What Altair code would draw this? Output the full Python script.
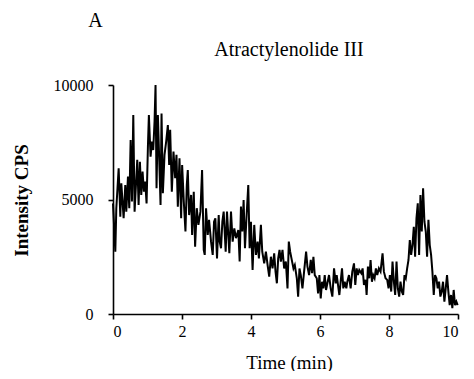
import altair as alt
import pandas as pd

time_min = [
    0.000, 0.067, 0.096, 0.164, 0.212, 0.241, 0.308, 0.356, 0.385, 0.434,
    0.472, 0.511, 0.549, 0.588, 0.626, 0.665, 0.703, 0.742, 0.780, 0.819,
    0.857, 0.896, 0.934, 0.973, 1.012, 1.040, 1.089, 1.127, 1.166, 1.204,
    1.233, 1.262, 1.301, 1.339, 1.378, 1.407, 1.445, 1.493, 1.541, 1.590,
    1.628, 1.657, 1.705, 1.753, 1.802, 1.840, 1.879, 1.927, 1.975, 2.004,
    2.052, 2.100, 2.139, 2.168, 2.206, 2.264, 2.293, 2.341, 2.380, 2.428,
    2.476, 2.534, 2.582, 2.630, 2.659, 2.697, 2.746, 2.784, 2.842, 2.890,
    2.929, 2.967, 3.015, 3.064, 3.092, 3.131, 3.170, 3.208, 3.266,
    3.304, 3.372, 3.420, 3.468, 3.516, 3.565, 3.632, 3.671, 3.709, 3.748,
    3.786, 3.825, 3.873, 3.921, 3.960, 3.998, 4.046, 4.094, 4.143, 4.191,
    4.229, 4.287, 4.326, 4.383, 4.432, 4.480, 4.528, 4.576, 4.624, 4.672,
    4.711, 4.750, 4.788, 4.827, 4.865, 4.913, 4.961, 5.010, 5.058, 5.096,
    5.135, 5.173, 5.231, 5.270, 5.328, 5.366, 5.405, 5.443, 5.491, 5.539,
    5.597, 5.636, 5.684, 5.732, 5.771, 5.809, 5.848, 5.906, 5.944, 5.983,
    6.021, 6.060, 6.098, 6.137, 6.175, 6.214, 6.262, 6.310, 6.358, 6.407,
    6.455, 6.484, 6.522, 6.561, 6.599, 6.638, 6.676, 6.715, 6.763,
    6.792, 6.840, 6.888, 6.936, 6.985, 7.023, 7.062, 7.100, 7.139, 7.197,
    7.235, 7.274, 7.322, 7.351, 7.389, 7.428, 7.466, 7.505, 7.543, 7.582,
    7.620, 7.659, 7.707, 7.755, 7.813, 7.852, 7.900, 7.948, 7.987, 8.025,
    8.064, 8.102, 8.141, 8.179, 8.218, 8.256, 8.295, 8.333, 8.372, 8.410,
    8.449, 8.487, 8.526, 8.565, 8.603, 8.642, 8.680, 8.719, 8.757, 8.796,
    8.834, 8.873, 8.911, 8.950, 8.988, 9.027, 9.066, 9.104, 9.143, 9.181,
    9.220, 9.258, 9.297, 9.335, 9.374, 9.412, 9.451, 9.489, 9.528, 9.566,
    9.605, 9.644, 9.682, 9.721, 9.759, 9.798, 9.836, 9.875, 9.913, 9.952,
    9.990,
]

intensity_cps = [
    4830, 2720, 4620, 6360, 4250, 5710, 4180, 5630, 4470, 6000,
    4620, 7600, 4910, 8690, 4470, 5630, 6730, 4760, 6650, 5200,
    6220, 5340, 5780, 4830, 7310, 8690, 6870, 7530, 7160, 8400,
    10000, 5490, 8690, 6800, 4760, 8760, 5270, 6950, 7530, 8250,
    6510, 8040, 5340, 7090, 5930, 6950, 4690, 6800, 4180, 6510,
    4910, 3600, 5630, 6290, 4320, 5200, 3450, 5340, 2940, 4620,
    3890, 4470, 6290, 2800, 2580, 4620, 3450, 4110, 3160, 2580,
    4030, 4180, 2430, 4320, 3160, 2870, 4030, 4470, 2720,
    4470, 2650, 4470, 3160, 3740, 3310, 3670, 2290, 4690, 3600,
    4980, 2870, 4320, 5630, 2870, 4030, 1920, 3890, 2580, 3160,
    2430, 3890, 2720, 2210, 2720, 2140, 1630, 2500, 1990, 2650,
    1850, 1340, 2430, 2800, 2290, 2800, 1990, 2290, 1120, 3160,
    2720, 2430, 1990, 2140, 1560, 760, 1990, 1700, 1120, 1850,
    2720, 2070, 1700, 2360, 1780, 2500, 1700, 1560, 900, 1700,
    680, 1410, 1120, 1700, 1050, 1340, 1700, 1120, 760, 1990,
    1340, 1700, 1270, 830, 1410, 1990, 1120, 1410, 1120,
    1410, 1700, 1120, 1850, 2210, 1270, 1990, 1700, 1920, 1780,
    1990, 1270, 1490, 830, 2070, 1560, 2360, 1410, 1700, 1560,
    1990, 1700, 1990, 1850, 2650, 1850, 1560, 1490, 1120, 1700,
    980, 2290, 1410, 830, 2290, 1120, 760, 1410, 980, 830,
    1700, 1560, 1990, 2360, 3230, 2580, 3010, 3810, 2500, 4180,
    4830, 2580, 5200, 3600, 5490, 4030, 3600, 2500, 4110, 3010,
    2580, 1850, 830, 1700, 1560, 1120, 1410, 760, 980, 1410,
    540, 1120, 1700, 980, 390, 830, 250, 1050, 390, 540,
    390,
]

x_ticks = [0, 2, 4, 6, 8, 10]
y_ticks = [0, 5000, 10000]
panel_label = ["A"]
compound = ["Atractylenolide III"]

df = pd.DataFrame({"Time": time_min, "Intensity": intensity_cps})

FONT = "Liberation Serif"

line = alt.Chart(df).mark_line(color="black", strokeWidth=2).encode(
    x=alt.X(
        "Time:Q",
        scale=alt.Scale(domain=[0, 10], nice=False, zero=False),
        axis=alt.Axis(
            values=x_ticks,
            title="Time (min)",
            labelPadding=4,
            titleX=176,
            titleY=54,
            titleAlign="center",
            titleBaseline="alphabetic",
            titleFontWeight="normal",
            titleFontSize=19,
        ),
    ),
    y=alt.Y(
        "Intensity:Q",
        scale=alt.Scale(domain=[0, 10000], nice=False),
        axis=alt.Axis(
            values=y_ticks,
            format="d",
            title="Intensity CPS",
            labelPadding=15,
            titleX=-91.5,
            titleY=115,
            titleAngle=270,
            titleAlign="center",
            titleBaseline="middle",
            titleFontWeight="bold",
            titleFontSize=19,
        ),
    ),
)

label_a = alt.Chart(pd.DataFrame({"t": panel_label})).mark_text(
    font=FONT, fontSize=20, align="center", baseline="alphabetic", color="black"
).encode(text="t:N", x=alt.value(-17.5), y=alt.value(-58.5))

title_text = alt.Chart(pd.DataFrame({"t": compound})).mark_text(
    font=FONT, fontSize=20, align="center", baseline="alphabetic", color="black"
).encode(text="t:N", x=alt.value(176), y=alt.value(-29))

chart = (
    alt.layer(line, label_a, title_text)
    .properties(
        width=345,
        height=229,
        padding={"left": 105, "top": 77, "right": 8, "bottom": 57},
        autosize=alt.AutoSizeParams(type="none"),
    )
    .configure_view(stroke=None)
    .configure_axis(
        grid=False,
        domainColor="black",
        domainWidth=1.6,
        tickColor="black",
        tickWidth=1.6,
        tickSize=5,
        labelFont=FONT,
        labelFontSize=16,
        labelColor="black",
        titleFont=FONT,
        titleColor="black",
    )
)

chart.save("out.html", embed_options={"renderer": "svg", "actions": False})
